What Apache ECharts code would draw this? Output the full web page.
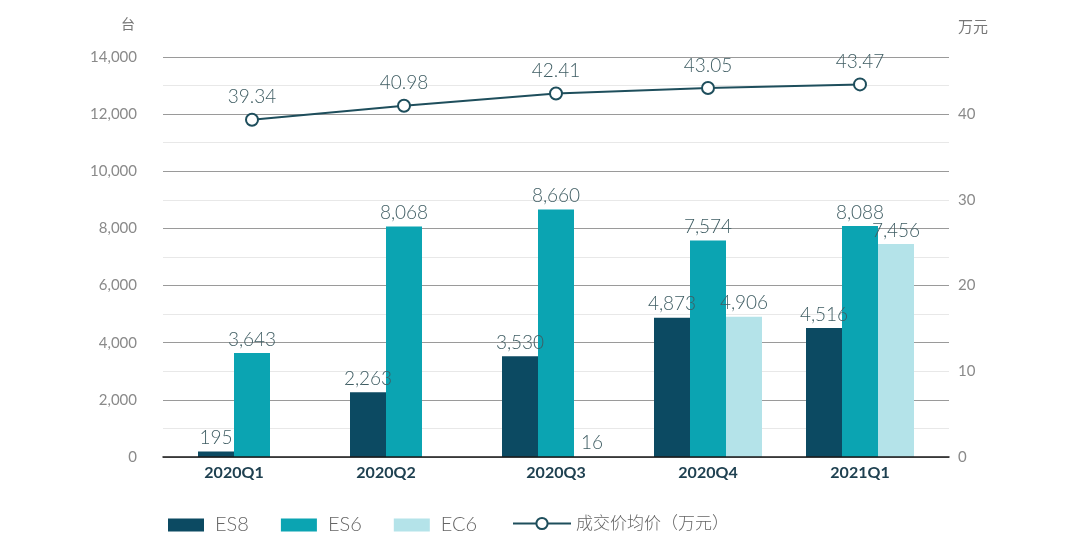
<!DOCTYPE html>
<html><head><meta charset="utf-8">
<script src="https://cdn.jsdelivr.net/npm/echarts@6/dist/echarts.min.js"></script>
<style>html,body{margin:0;padding:0;background:#fff}#c{width:1080px;height:554px}</style>
</head><body><div id="c"></div>
<script>
const categories = ['2020Q1','2020Q2','2020Q3','2020Q4','2021Q1'];
const es8 = [195, 2263, 3530, 4873, 4516];
const es6 = [3643, 8068, 8660, 7574, 8088];
const ec6 = [null, null, 16, 4906, 7456];
const avgPrice = [39.34, 40.98, 42.41, 43.05, 43.47];
const leftTicks = [0, 2000, 4000, 6000, 8000, 10000, 12000, 14000];
const rightTicks = [0, 10, 20, 30, 40];

const FONT = 'Lato, "Noto Sans CJK SC", sans-serif';
const BAR_W = 36;
const leftMax = leftTicks[leftTicks.length - 1];
const rightMax = leftMax / 300;
const fmt = v => v.toLocaleString('en-US');
const barLabel = {show: true, position: 'top', distance: 4, fontSize: 19, color: '#3f5d63', fontFamily: FONT, fontWeight: 300,
  formatter: p => p.value == null ? '' : fmt(p.value)};

// category labels sit under the visible bars: shift left when the third bar is empty
const catAxisData = categories.map((c, i) => ec6[i] == null
  ? {value: c, textStyle: {padding: [0, BAR_W, 0, 0]}}
  : {value: c});

const chart = echarts.init(document.getElementById('c'));
chart.setOption({
  animation: false,
  textStyle: {fontFamily: FONT},
  grid: [
    {left: 163, right: 131, top: 57, bottom: 97},
    {left: 176, right: 144, top: 57, bottom: 97}
  ],
  legend: [
    {data: ['ES8', 'ES6', 'EC6'], left: 163, top: 510, icon: 'rect', itemWidth: 36, itemHeight: 13, itemGap: 32,
      textStyle: {fontSize: 20, color: '#666', fontFamily: FONT, fontWeight: 300, padding: [0, 0, 0, 6]}},
    {data: ['成交价均价（万元）'], left: 507, top: 510, itemWidth: 58, itemHeight: 14,
      textStyle: {fontSize: 17, color: '#666', fontFamily: FONT, fontWeight: 300}}
  ],
  xAxis: [
    {gridIndex: 0, type: 'category', data: categories, axisLine: {lineStyle: {color: '#1a1a1a', width: 1.5}},
      axisTick: {show: false}, axisLabel: {show: false}, z: 5},
    {gridIndex: 1, type: 'category', data: catAxisData, axisLine: {show: false}, axisTick: {show: false},
      axisLabel: {fontSize: 16, fontWeight: 'bold', color: '#1e4050', margin: 8, fontFamily: FONT}}
  ],
  yAxis: [
    {gridIndex: 0, type: 'value', min: 0, max: leftMax, interval: 2000, position: 'left',
      name: '台', nameLocation: 'end', nameGap: 26, nameTextStyle: {fontSize: 14, color: '#777', padding: [0, 70, 0, 0]},
      axisLine: {show: false}, axisTick: {show: false},
      axisLabel: {fontSize: 15, color: '#8a8a8a', margin: 26, formatter: v => leftTicks.includes(v) ? fmt(v) : ''},
      splitLine: {lineStyle: {color: '#9a9a9a', width: 1}},
      minorTick: {show: false, splitNumber: 2},
      minorSplitLine: {show: true, lineStyle: {color: '#e8e8e8', width: 1}}},
    {gridIndex: 0, type: 'value', min: 0, max: rightMax, interval: 10, position: 'right',
      name: '万元', nameLocation: 'end', nameGap: 22, nameTextStyle: {fontSize: 15, color: '#777', padding: [0, 0, 0, 48]},
      axisLine: {show: false}, axisTick: {show: false}, splitLine: {show: false},
      axisLabel: {fontSize: 15, color: '#8a8a8a', margin: 9, showMaxLabel: false,
        formatter: v => rightTicks.includes(Math.round(v * 1000) / 1000) ? String(v) : ''}},
    {gridIndex: 1, type: 'value', min: 0, max: leftMax, show: false},
    {gridIndex: 1, type: 'value', min: 0, max: rightMax, show: false}
  ],
  series: [
    {name: 'ES8', type: 'bar', xAxisIndex: 1, yAxisIndex: 2, data: es8, barWidth: BAR_W, barGap: '0%',
      itemStyle: {color: '#0c4a62'}, label: barLabel},
    {name: 'ES6', type: 'bar', xAxisIndex: 1, yAxisIndex: 2, data: es6, barWidth: BAR_W, barGap: '0%',
      itemStyle: {color: '#0ba4b2'}, label: barLabel},
    {name: 'EC6', type: 'bar', xAxisIndex: 1, yAxisIndex: 2, data: ec6, barWidth: BAR_W, barGap: '0%',
      itemStyle: {color: '#b4e3e9'}, label: barLabel},
    {name: '成交价均价（万元）', type: 'line', xAxisIndex: 1, yAxisIndex: 3, data: avgPrice,
      symbol: 'emptyCircle', symbolSize: 12, z: 10,
      lineStyle: {color: '#1e4e5c', width: 2},
      itemStyle: {color: '#1e4e5c', borderColor: '#1e4e5c', borderWidth: 2},
      label: {show: true, position: 'top', distance: 6, fontSize: 19, color: '#3f5d63', fontWeight: 300,
        formatter: p => p.value.toFixed(2)}}
  ]
});
</script></body></html>
